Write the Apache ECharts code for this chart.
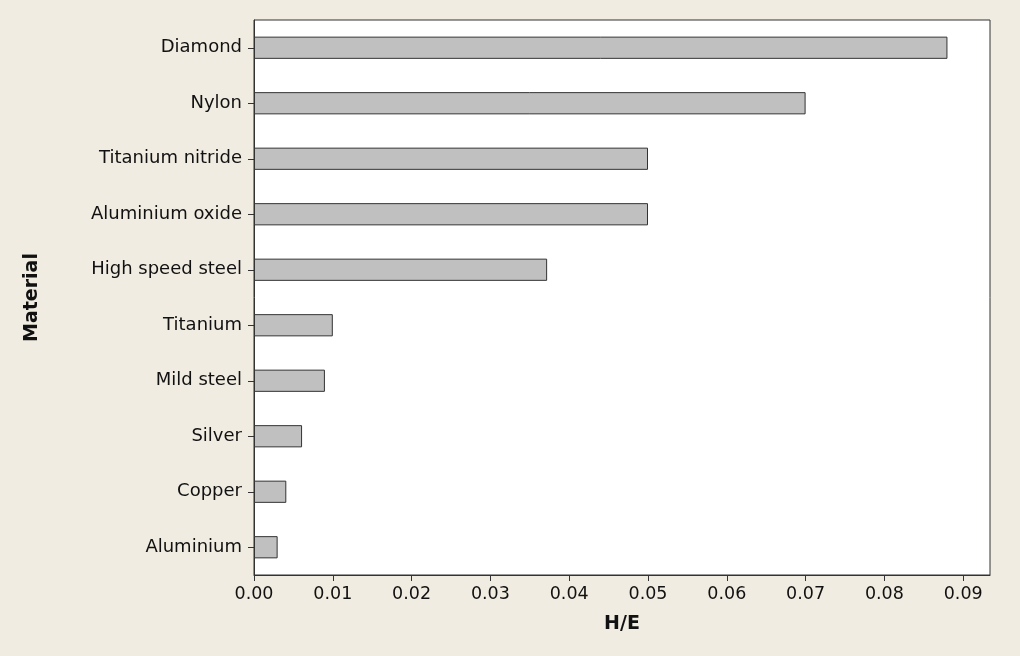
<!DOCTYPE html>
<html>
<head>
<meta charset="utf-8">
<script src="https://cdn.jsdelivr.net/npm/echarts@6/dist/echarts.min.js"></script>
<style>
  html, body { margin: 0; padding: 0; background: #f0ece2; }
  #chart { width: 1020px; height: 656px; }
</style>
</head>
<body>
<div id="chart"></div>
<script>
// materials listed bottom to top
const materials = ['Aluminium', 'Copper', 'Silver', 'Mild steel', 'Titanium',
  'High speed steel', 'Aluminium oxide', 'Titanium nitride', 'Nylon', 'Diamond'];
const hardnessRatio = [0.003, 0.0041, 0.0061, 0.009, 0.010, 0.0372, 0.050, 0.050, 0.070, 0.088];
const xTicks = [0, 0.01, 0.02, 0.03, 0.04, 0.05, 0.06, 0.07, 0.08, 0.09];

const myChart = echarts.init(document.getElementById('chart'));
const font = 'DejaVu Sans';
const option = {
  backgroundColor: '#f0ece2',
  grid: {
    left: 254, right: 30, top: 20, bottom: 81,
    show: true, backgroundColor: '#ffffff', borderColor: '#333', borderWidth: 1
  },
  xAxis: {
    type: 'value',
    min: 0,
    max: 0.0934,
    interval: 0.01,
    name: 'H/E',
    nameLocation: 'middle',
    nameGap: 40,
    nameTextStyle: { fontFamily: font, fontSize: 19, fontWeight: 'bold', color: '#111' },
    axisLine: { show: true, lineStyle: { color: '#333' } },
    axisTick: { show: true, length: 6, lineStyle: { color: '#333' } },
    splitLine: { show: false },
    axisLabel: {
      fontFamily: font, fontSize: 17.5, color: '#111', margin: 10,
      showMaxLabel: false,
      formatter: v => xTicks.some(t => Math.abs(t - v) < 1e-9) ? v.toFixed(2) : ''
    }
  },
  yAxis: {
    type: 'category',
    data: materials,
    name: 'Material',
    nameLocation: 'middle',
    nameGap: 212,
    nameRotate: 90,
    nameTextStyle: { fontFamily: font, fontSize: 19, fontWeight: 'bold', color: '#111' },
    axisLine: { show: true, lineStyle: { color: '#333' } },
    axisTick: { show: true, alignWithLabel: true, length: 6, lineStyle: { color: '#333' } },
    axisLabel: { fontFamily: font, fontSize: 18, color: '#111', margin: 12 }
  },
  series: [{
    type: 'bar',
    data: hardnessRatio,
    barWidth: '40%',
    itemStyle: { color: '#c0c0c0', borderColor: '#333', borderWidth: 1 }
  }]
};
myChart.setOption(option);
</script>
</body>
</html>
